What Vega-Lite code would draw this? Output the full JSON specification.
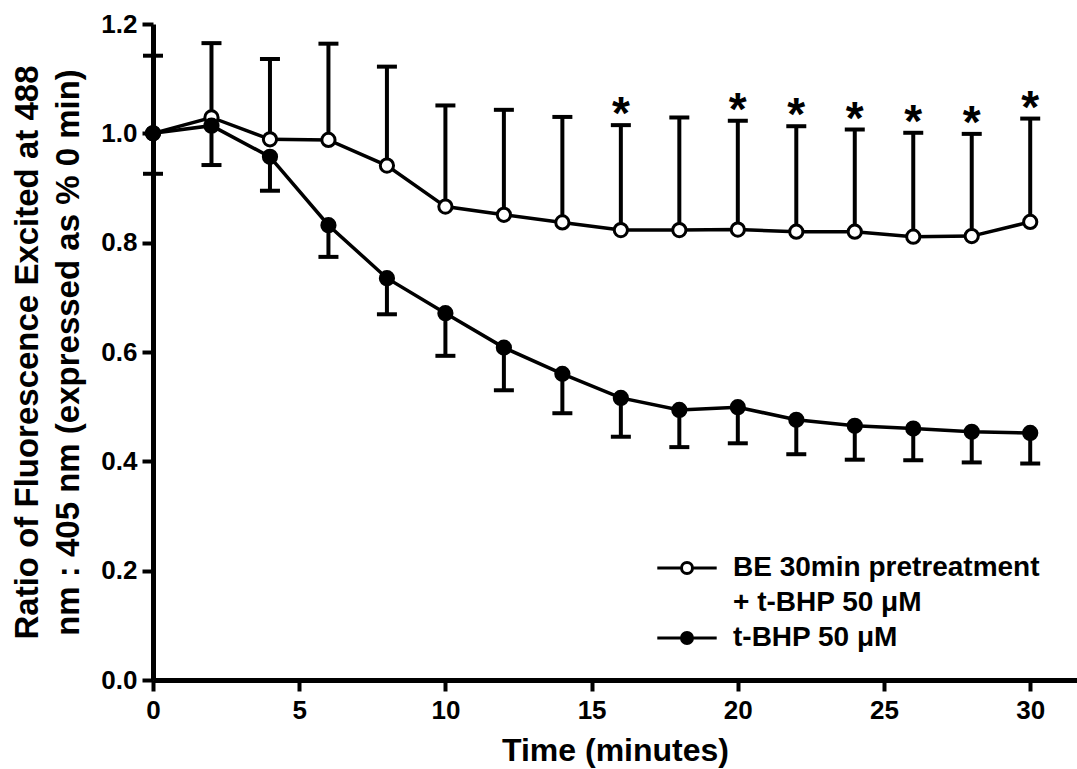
{
  "$schema": "https://vega.github.io/schema/vega-lite/v6.json",
  "width": 924,
  "height": 656,
  "autosize": "none",
  "padding": {"left": 153, "top": 24, "right": 0, "bottom": 89},
  "background": "white",
  "config": {
    "view": {"stroke": null},
    "font": "Liberation Sans",
    "axis": {
      "domainColor": "black",
      "domainWidth": 5,
      "tickColor": "black",
      "tickWidth": 4,
      "tickSize": 11,
      "grid": false,
      "labelFont": "Liberation Sans",
      "labelFontWeight": "bold",
      "labelColor": "black",
      "titleFont": "Liberation Sans",
      "titleFontWeight": "bold",
      "titleColor": "black"
    }
  },
  "data": {
    "values": [
      {"t": 0, "group": "BE 30min pretreatment + t-BHP 50 μM", "mean": 1.0, "cap": 1.142, "sig": false},
      {"t": 2, "group": "BE 30min pretreatment + t-BHP 50 μM", "mean": 1.029, "cap": 1.165, "sig": false},
      {"t": 4, "group": "BE 30min pretreatment + t-BHP 50 μM", "mean": 0.989, "cap": 1.136, "sig": false},
      {"t": 6, "group": "BE 30min pretreatment + t-BHP 50 μM", "mean": 0.988, "cap": 1.164, "sig": false},
      {"t": 8, "group": "BE 30min pretreatment + t-BHP 50 μM", "mean": 0.941, "cap": 1.122, "sig": false},
      {"t": 10, "group": "BE 30min pretreatment + t-BHP 50 μM", "mean": 0.866, "cap": 1.051, "sig": false},
      {"t": 12, "group": "BE 30min pretreatment + t-BHP 50 μM", "mean": 0.851, "cap": 1.043, "sig": false},
      {"t": 14, "group": "BE 30min pretreatment + t-BHP 50 μM", "mean": 0.837, "cap": 1.03, "sig": false},
      {"t": 16, "group": "BE 30min pretreatment + t-BHP 50 μM", "mean": 0.823, "cap": 1.015, "sig": true},
      {"t": 18, "group": "BE 30min pretreatment + t-BHP 50 μM", "mean": 0.823, "cap": 1.029, "sig": false},
      {"t": 20, "group": "BE 30min pretreatment + t-BHP 50 μM", "mean": 0.824, "cap": 1.023, "sig": true},
      {"t": 22, "group": "BE 30min pretreatment + t-BHP 50 μM", "mean": 0.82, "cap": 1.013, "sig": true},
      {"t": 24, "group": "BE 30min pretreatment + t-BHP 50 μM", "mean": 0.82, "cap": 1.007, "sig": true},
      {"t": 26, "group": "BE 30min pretreatment + t-BHP 50 μM", "mean": 0.811, "cap": 1.001, "sig": true},
      {"t": 28, "group": "BE 30min pretreatment + t-BHP 50 μM", "mean": 0.812, "cap": 0.999, "sig": true},
      {"t": 30, "group": "BE 30min pretreatment + t-BHP 50 μM", "mean": 0.838, "cap": 1.027, "sig": true},
      {"t": 0, "group": "t-BHP 50 μM", "mean": 1.0, "cap": 0.926, "sig": false},
      {"t": 2, "group": "t-BHP 50 μM", "mean": 1.014, "cap": 0.942, "sig": false},
      {"t": 4, "group": "t-BHP 50 μM", "mean": 0.957, "cap": 0.895, "sig": false},
      {"t": 6, "group": "t-BHP 50 μM", "mean": 0.832, "cap": 0.774, "sig": false},
      {"t": 8, "group": "t-BHP 50 μM", "mean": 0.735, "cap": 0.669, "sig": false},
      {"t": 10, "group": "t-BHP 50 μM", "mean": 0.671, "cap": 0.593, "sig": false},
      {"t": 12, "group": "t-BHP 50 μM", "mean": 0.608, "cap": 0.53, "sig": false},
      {"t": 14, "group": "t-BHP 50 μM", "mean": 0.56, "cap": 0.488, "sig": false},
      {"t": 16, "group": "t-BHP 50 μM", "mean": 0.516, "cap": 0.445, "sig": false},
      {"t": 18, "group": "t-BHP 50 μM", "mean": 0.494, "cap": 0.426, "sig": false},
      {"t": 20, "group": "t-BHP 50 μM", "mean": 0.499, "cap": 0.433, "sig": false},
      {"t": 22, "group": "t-BHP 50 μM", "mean": 0.476, "cap": 0.413, "sig": false},
      {"t": 24, "group": "t-BHP 50 μM", "mean": 0.465, "cap": 0.403, "sig": false},
      {"t": 26, "group": "t-BHP 50 μM", "mean": 0.46, "cap": 0.402, "sig": false},
      {"t": 28, "group": "t-BHP 50 μM", "mean": 0.454, "cap": 0.398, "sig": false},
      {"t": 30, "group": "t-BHP 50 μM", "mean": 0.452, "cap": 0.396, "sig": false}
    ]
  },
  "encoding": {
    "x": {
      "field": "t",
      "type": "quantitative",
      "scale": {"domain": [0, 31.6], "nice": false, "zero": false},
      "axis": {
        "values": [0, 5, 10, 15, 20, 25, 30],
        "title": "Time (minutes)",
        "titleFontSize": 32,
        "titlePadding": 12,
        "labelFontSize": 26,
        "labelPadding": 6,
        "labelFlush": false
      }
    },
    "y": {
      "field": "mean",
      "type": "quantitative",
      "scale": {"domain": [0, 1.2], "nice": false},
      "axis": {
        "values": [0, 0.2, 0.4, 0.6, 0.8, 1.0, 1.2],
        "format": ".1f",
        "title": ["Ratio of Fluorescence Excited at 488", "nm : 405 nm (expressed as % 0 min)"],
        "titleFontSize": 33,
        "titleLineHeight": 41,
        "titlePadding": 15,
        "labelFontSize": 26,
        "labelPadding": 5,
        "labelFlush": false
      }
    }
  },
  "layer": [
    {
      "mark": {"type": "rule", "color": "black", "strokeWidth": 4},
      "encoding": {"y2": {"field": "cap"}, "detail": {"field": "group"}}
    },
    {
      "mark": {"type": "tick", "orient": "horizontal", "color": "black", "size": 20, "thickness": 4, "opacity": 1},
      "encoding": {"y": {"field": "cap", "type": "quantitative"}}
    },
    {
      "mark": {"type": "line", "color": "black", "strokeWidth": 3.5},
      "encoding": {"detail": {"field": "group"}}
    },
    {
      "mark": {"type": "point", "shape": "circle", "size": 175, "stroke": "black", "strokeWidth": 3, "opacity": 1, "filled": true},
      "encoding": {
        "fill": {
          "field": "group",
          "type": "nominal",
          "scale": {"domain": ["BE 30min pretreatment + t-BHP 50 μM", "t-BHP 50 μM"], "range": ["white", "black"]},
          "legend": {
            "title": null,
            "orient": "none",
            "legendX": 520,
            "legendY": 530,
            "padding": 0,
            "symbolType": "M-5.4,0H-1M1,0H5.4M-1,0A1,1 0 1,1 1,0A1,1 0 1,1 -1,0Z",
            "symbolSize": 121,
            "symbolStrokeColor": "black",
            "symbolStrokeWidth": 3,
            "symbolOpacity": 1,
            "labelFont": "Liberation Sans",
            "labelFontWeight": "bold",
            "labelFontSize": 28,
            "labelColor": "black",
            "labelLimit": 0,
            "labelOffset": 32,
            "labelBaseline": "middle",
            "rowPadding": 7,
            "labelExpr": "datum.value == 't-BHP 50 μM' ? datum.label : ['BE 30min pretreatment', '\u00a0+ t-BHP 50 μM']",
            "encode": {
              "labels": {"update": {"lineHeight": {"value": 35}}}
            }
          }
        }
      }
    },
    {
      "transform": [{"filter": "datum.sig"}],
      "mark": {"type": "text", "text": "*", "fontSize": 46, "fontWeight": "bold", "color": "black", "baseline": "alphabetic", "dy": 4},
      "encoding": {"y": {"field": "cap", "type": "quantitative"}}
    }
  ]
}
